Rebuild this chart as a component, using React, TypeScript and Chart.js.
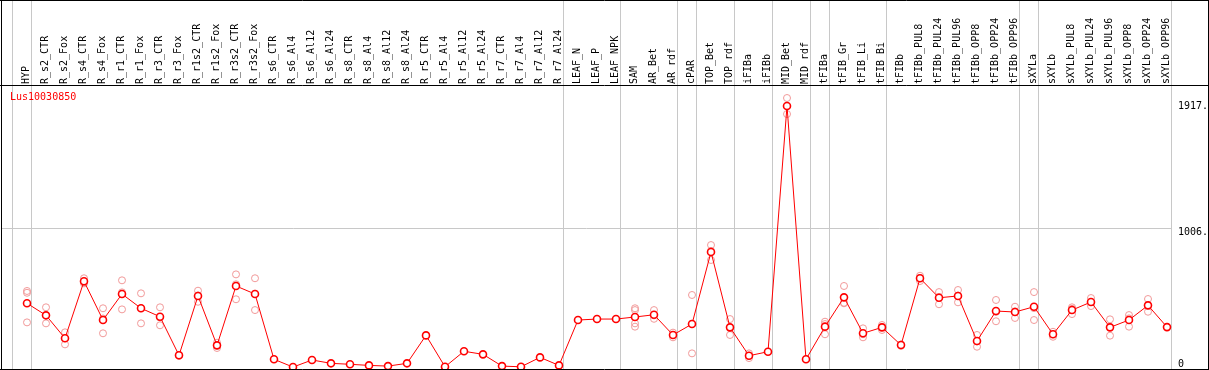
import React, { useEffect, useRef } from "react";
import { Chart, registerables } from "chart.js";
Chart.register(...registerables);

const title = "Lus10030850";

const categories = [
  "HYP", "R_s2_CTR", "R_s2_Fox", "R_s4_CTR", "R_s4_Fox", "R_r1_CTR", "R_r1_Fox", "R_r3_CTR", "R_r3_Fox",
  "R_r1s2_CTR", "R_r1s2_Fox", "R_r3s2_CTR", "R_r3s2_Fox", "R_s6_CTR", "R_s6_Al4", "R_s6_Al12", "R_s6_Al24",
  "R_s8_CTR", "R_s8_Al4", "R_s8_Al12", "R_s8_Al24", "R_r5_CTR", "R_r5_Al4", "R_r5_Al12", "R_r5_Al24",
  "R_r7_CTR", "R_r7_Al4", "R_r7_Al12", "R_r7_Al24", "LEAF_N", "LEAF_P", "LEAF_NPK", "SAM", "AR_Bet", "AR_rdf",
  "cPAR", "TOP_Bet", "TOP_rdf", "iFIBa", "iFIBb", "MID_Bet", "MID_rdf", "tFIBa", "tFIB_Gr", "tFIB_Li", "tFIB_Bi",
  "tFIBb", "tFIBb_PUL8", "tFIBb_PUL24", "tFIBb_PUL96", "tFIBb_OPP8", "tFIBb_OPP24", "tFIBb_OPP96",
  "sXYLa", "sXYLb", "sXYLb_PUL8", "sXYLb_PUL24", "sXYLb_PUL96", "sXYLb_OPP8", "sXYLb_OPP24", "sXYLb_OPP96",
];

const meanValues = [
  468, 381, 215, 627, 347, 535, 432, 371, 92, 521, 164, 593, 535, 63, 7, 58, 34, 27, 19, 14, 34,
  236, 9, 121, 99, 14, 9, 77, 19, 347, 354, 354, 369, 385, 239, 318, 839, 294, 89, 118, 1894, 63,
  299, 511, 251, 294, 166, 649, 508, 521, 195, 412, 405, 443, 244, 419, 477, 294, 347, 453, 296,
];

const N = null;
const rep1 = [
  557, 439, 258, 649, 432, 634, 540, 439, 96, 559, 183, 677, 649, N, N, N, N, N, N, N, N,
  N, N, N, N, N, N, N, N, N, N, N, 432, 419, 256, 528, 889, 354, 106, N, 1952, N,
  335, 593, 287, 311, 170, 667, 549, 564, 239, 492, 443, 549, 262, 439, 506, 352, 383, 499, N,
];
const rep2 = [
  330, 323, 171, 612, 251, 424, 323, 309, 88, 479, 145, 497, 419, N, N, N, N, N, N, N, N,
  N, N, N, N, N, N, N, N, N, N, N, 299, 356, 222, 106, 781, 239, 72, N, 1836, N,
  244, 468, 222, 275, 160, 629, 461, 475, 154, 338, 362, 347, 226, 390, 448, 234, 299, 407, N,
];
const rep3 = [
  544, 381, 215, 620, 358, 547, 432, 365, 92, 525, 164, 605, 537, N, N, N, N, N, N, N, N,
  N, N, N, N, N, N, N, N, N, N, N, 419, 380, 239, 320, 847, 289, 89, N, 1894, N,
  318, 472, 244, 296, 168, 651, 514, 524, 192, 406, 410, 433, 244, 428, 477, 296, 359, 453, N,
];
const rep4 = categories.map((c) => (c === "SAM" ? 323 : N));

const groupEnds = [-1, 0, 28, 31, 34, 35, 37, 39, 41, 42, 45, 52, 53, 60];

const yTickValues = [0, 1006, 1917];
const yTickLabels = ["0", "1006.", "1917."];
const gridValue = 1006;

const W = 1209;
const H = 370;
const FONT = "DejaVu Sans Mono";

const framePlugin = {
  id: "frame",
  beforeDraw(chart: any) {
    const ctx = chart.ctx;
    ctx.save();
    ctx.fillStyle = "#ffffff";
    ctx.fillRect(0, 0, chart.width, chart.height);
    ctx.restore();
  },
  beforeDatasetsDraw(chart: any) {
    const ctx = chart.ctx;
    const xs = chart.scales.x;
    ctx.save();
    ctx.strokeStyle = "#c8c8c8";
    ctx.lineWidth = 1;
    ctx.beginPath();
    for (const k of groupEnds) {
      const px = Math.round(xs.getPixelForValue(k + 0.2)) + 0.5;
      ctx.moveTo(px, 0);
      ctx.lineTo(px, chart.height);
    }
    ctx.stroke();
    ctx.restore();
  },
  afterDraw(chart: any) {
    const ctx = chart.ctx;
    const ca = chart.chartArea;
    ctx.save();
    ctx.strokeStyle = "#000000";
    ctx.lineWidth = 1;
    ctx.beginPath();
    ctx.moveTo(0, 0.5);
    ctx.lineTo(chart.width, 0.5);
    ctx.moveTo(0, Math.round(ca.top) + 0.5);
    ctx.lineTo(chart.width, Math.round(ca.top) + 0.5);
    ctx.moveTo(0, chart.height - 0.5);
    ctx.lineTo(chart.width, chart.height - 0.5);
    ctx.moveTo(1.5, 0);
    ctx.lineTo(1.5, chart.height);
    ctx.moveTo(chart.width - 0.5, 0);
    ctx.lineTo(chart.width - 0.5, chart.height);
    ctx.stroke();
    ctx.fillStyle = "#ff0000";
    ctx.font = `10px "${FONT}"`;
    ctx.textBaseline = "middle";
    ctx.textAlign = "left";
    ctx.fillText(title, 10, Math.round(ca.top) + 12);
    ctx.restore();
  },
};

function toPoints(arr: (number | null)[]) {
  const out: { x: number; y: number }[] = [];
  arr.forEach((v, i) => {
    if (v !== null && v !== undefined) out.push({ x: i, y: v });
  });
  return out;
}

export default function App() {
  const ref = useRef<HTMLCanvasElement>(null);
  useEffect(() => {
    document.body.style.margin = "0";
    const canvas = ref.current!;
    const plotLeft = 1;
    const plotRight = 1172;
    const firstPx = 27;
    const step = 19;
    const xMin = -(firstPx - plotLeft) / step;
    const xMax = xMin + (plotRight - plotLeft) / step;

    const repDatasets = [rep1, rep2, rep3, rep4].map((arr, k) => ({
      label: "rep" + (k + 1),
      data: toPoints(arr),
      showLine: false,
      pointRadius: 3.5,
      pointBorderWidth: 1,
      pointBorderColor: "#f29a9a",
      pointBackgroundColor: "rgba(0,0,0,0)",
      order: 2,
    }));

    const chart = new Chart(canvas, {
      type: "line",
      data: {
        datasets: [
          {
            label: title,
            data: toPoints(meanValues),
            borderColor: "#ff0000",
            borderWidth: 1,
            pointRadius: 3.5,
            pointBorderWidth: 1.6,
            pointBorderColor: "#ff0000",
            pointBackgroundColor: "#ffffff",
            tension: 0,
            order: 1,
          } as any,
          ...(repDatasets as any[]),
        ],
      },
      options: {
        animation: false,
        responsive: false,
        devicePixelRatio: 1,
        layout: { autoPadding: false, padding: { left: plotLeft, right: 0, top: 0, bottom: 1 } },
        plugins: {
          legend: { display: false },
          tooltip: { enabled: false },
          title: { display: false },
        },
        scales: {
          x: {
            type: "linear",
            position: "top",
            min: xMin,
            max: xMax,
            afterBuildTicks: (axis: any) => {
              axis.ticks = categories.map((_, i) => ({ value: i }));
            },
            afterFit: (axis: any) => {
              axis.height = 85;
              axis.paddingLeft = 0;
              axis.paddingRight = 0;
              axis.paddingTop = 0;
              axis.paddingBottom = 0;
            },
            ticks: {
              autoSkip: false,
              minRotation: 90,
              maxRotation: 90,
              padding: 1,
              labelOffset: 11,
              color: "#000000",
              font: { family: FONT, size: 10 },
              callback: (v: any) => categories[v] ?? "",
            },
            grid: { display: false, drawTicks: false },
            border: { display: false },
          },
          y: {
            type: "linear",
            position: "right",
            min: -7,
            max: 2046,
            afterBuildTicks: (axis: any) => {
              axis.ticks = yTickValues.map((v) => ({ value: v }));
            },
            afterFit: (axis: any) => {
              axis.width = W - plotRight;
              axis.paddingLeft = 0;
              axis.paddingRight = 0;
              axis.paddingTop = 0;
              axis.paddingBottom = 0;
            },
            ticks: {
              padding: 6,
              color: "#000000",
              font: { family: FONT, size: 10, lineHeight: 0.8 },
              callback: (v: any) => {
                const i = yTickValues.indexOf(v);
                const lab = i >= 0 ? yTickLabels[i] : "";
                return v === 0 ? [lab, ""] : ["", lab];
              },
            },
            grid: {
              drawTicks: false,
              color: (ctx: any) => (ctx.tick && ctx.tick.value === gridValue ? "#c8c8c8" : "rgba(0,0,0,0)"),
            },
            border: { display: false },
          },
        },
      },
      plugins: [framePlugin],
    } as any);
    return () => chart.destroy();
  }, []);
  return (
    <div style={{ width: W, height: H }}>
      <canvas ref={ref} width={W} height={H} style={{ display: "block" }} />
    </div>
  );
}
